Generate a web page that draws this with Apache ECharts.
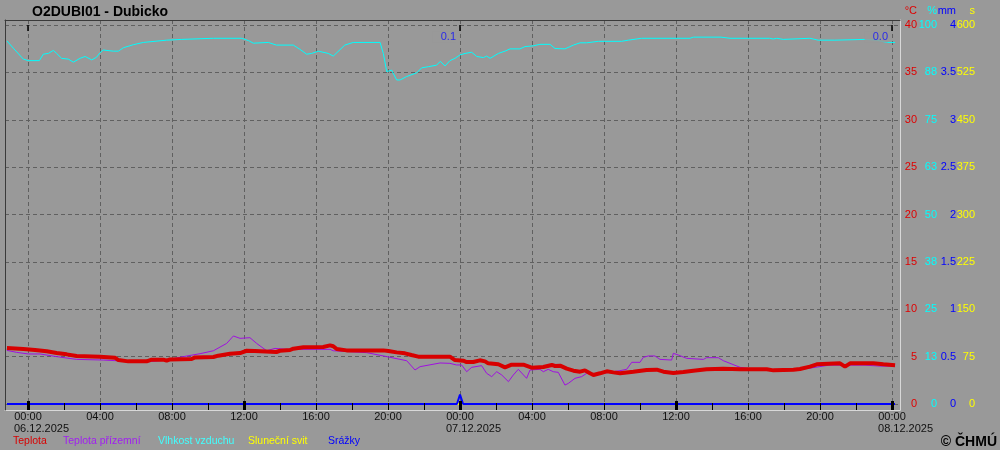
<!DOCTYPE html>
<html><head><meta charset="utf-8">
<script src="https://cdn.jsdelivr.net/npm/echarts@6/dist/echarts.min.js"></script>
<style>html,body{margin:0;padding:0;background:#999999;}#c{width:1000px;height:450px;}</style>
</head><body><div id="c"></div>
<script>
// ---- texts / ticks ----
const chartTitle = 'O2DUBI01 - Dubicko';
const copyright = '© ČHMÚ';
const dayLabels = ['06.12.2025', '07.12.2025', '08.12.2025'];
const timeLabelTicks = [0, 4, 8, 12, 16, 20, 24, 28, 32, 36, 40, 44, 48];
const minorTicks = [0, 2, 4, 6, 8, 10, 12, 14, 16, 18, 20, 22, 24, 26, 28, 30, 32, 34, 36, 38, 40, 42, 44, 46, 48];
const majorTicks = [0, 12, 24, 36, 48];
const midnightTicks = [0, 24, 48];
const tempTicks = [0, 5, 10, 15, 20, 25, 30, 35, 40];
const humTicks = [0, 12.5, 25, 37.5, 50, 62.5, 75, 87.5, 100];
const rainTicks = [0, 0.5, 1, 1.5, 2, 2.5, 3, 3.5, 4];
const sunTicks = [0, 75, 150, 225, 300, 375, 450, 525, 600];

// ---- data: time in hours from 06.12.2025 00:00 ----
const teplotaT = [-1.17,-0.26,0.39,1.04,1.59,2.15,2.7,4.0,4.83,5.02,5.57,6.59,6.87,7.52,7.7,7.89,9.09,9.28,10.3,10.57,11.22,11.78,12.15,12.6,12.7,13.8,14.0,14.56,14.74,15.3,16.4,16.78,16.96,17.15,17.7,19.74,20.02,20.48,20.94,21.3,21.68,23.44,23.54,23.72,24.18,24.37,24.74,25.1,25.39,25.57,26.13,26.5,26.87,27.52,27.98,28.63,29.1,29.28,29.56,29.93,30.3,30.67,30.94,31.22,31.41,31.78,32.15,32.52,32.89,33.63,34.37,34.93,35.3,35.85,36.41,36.96,37.7,38.63,39.56,41.04,41.41,42.52,42.89,43.44,43.82,45.11,45.39,45.67,46.96,47.52,48.17];
const teplotaV = [5.91,5.8,5.7,5.56,5.38,5.24,5.07,5.0,4.89,4.64,4.5,4.5,4.68,4.68,4.57,4.71,4.75,4.92,4.96,5.1,5.31,5.38,5.62,5.59,5.45,5.49,5.62,5.7,5.84,5.98,6.02,6.19,6.1,5.8,5.66,5.66,5.59,5.45,5.35,5.17,5.0,5.0,4.89,4.64,4.57,4.43,4.43,4.61,4.5,4.29,4.19,3.87,4.15,4.15,3.83,3.9,4.12,4.01,4.05,3.73,3.52,3.41,3.55,3.24,3.06,3.24,3.45,3.34,3.24,3.41,3.59,3.62,3.41,3.27,3.38,3.52,3.66,3.73,3.66,3.66,3.55,3.62,3.69,3.94,4.19,4.29,3.94,4.29,4.29,4.19,4.08];

const prizemniT = [-1.17,-0.63,0.02,0.67,1.59,2.7,4.18,4.93,5.6,6.6,7.5,7.9,8.63,9.56,10.3,11.04,11.41,11.78,12.33,12.7,13.26,13.72,14.37,16.78,16.96,18.82,19.93,21.04,21.5,21.78,22.89,23.44,23.8,24.09,24.37,24.65,25.2,25.48,25.76,26.04,26.32,26.69,26.96,27.24,27.7,27.89,28.44,28.63,28.9,29.18,29.46,29.83,30.02,30.39,30.76,31.04,31.8,32.89,33.26,33.54,34.0,34.18,34.46,34.83,35.11,35.76,35.85,36.13,36.59,37.52,37.7,38.35,38.63,39.0,39.56,40.5,42.5,43.5,44.5,46.5,47.33,48.17];
const prizemniV = [5.66,5.45,5.28,5.28,5.0,4.71,4.64,4.57,4.45,4.45,4.6,4.72,5.0,5.31,5.62,6.4,7.18,6.93,7.0,6.4,5.62,5.87,5.77,5.77,5.62,5.42,5.0,4.57,3.59,3.94,4.33,4.29,4.12,4.12,3.41,3.87,4.05,3.24,2.89,3.41,3.06,2.36,3.06,3.66,2.71,3.59,3.66,3.41,3.66,3.41,3.34,2.0,2.18,2.71,2.89,3.24,3.2,3.52,3.66,4.4,4.4,4.92,5.07,5.07,4.71,4.64,5.35,5.17,4.82,4.71,4.89,4.89,4.57,4.29,3.87,3.6,3.55,3.8,4.1,4.1,4.0,4.0];

const vlhkostT = [-1.17,-0.82,-0.26,0.02,0.63,0.85,1.13,1.41,1.59,1.87,2.24,2.52,2.89,3.17,3.54,3.81,4.0,4.18,4.74,5.02,5.3,5.85,6.41,7.7,8.54,10.3,11.87,12.24,12.52,13.35,13.8,14.74,15.1,15.48,15.76,16.13,16.68,16.96,17.6,18.07,19.56,19.74,19.93,20.2,20.48,20.67,21.04,21.6,21.87,22.24,22.7,22.9,23.17,23.44,23.72,24.0,24.28,24.65,24.93,25.3,25.48,25.67,26.13,26.5,26.78,27.33,27.61,28.07,28.44,29.0,29.28,29.83,30.3,30.67,31.04,31.69,32.98,33.35,34.09,36.78,36.96,38.5,39.0,41.2,41.4,41.6,41.96,43.44,43.9,44.83,44.93,46.5,47.15,47.7,48.17];
const vlhkostV = [95.8,93.9,91.0,90.6,90.6,92.3,92.5,93.3,92.5,91.2,91.0,90.2,91.2,91.7,90.8,91.5,92.7,93.4,93.1,93.1,94.0,94.8,95.4,96.0,96.2,96.5,96.5,95.9,95.2,95.4,94.7,94.7,93.6,92.3,92.5,93.1,92.5,91.8,94.7,95.4,95.4,92.5,87.7,88.1,85.5,85.5,86.4,87.4,88.7,89.0,89.4,90.4,89.2,90.6,91.2,92.1,92.5,92.8,91.7,91.4,91.8,91.2,92.5,93.1,93.7,93.7,94.3,94.5,94.9,94.9,93.8,93.7,94.7,95.3,95.3,95.7,95.7,96.0,96.5,96.5,96.8,96.8,96.5,96.5,96.3,96.5,96.2,96.5,96.0,96.0,96.2,96.2,96.0,95.4,95.4];

const srazkyT = [-1.17,23.83,24.0,24.17,48.17];
const srazkyV = [0,0,0.1,0,0];

const svitT = [-1.17,48.17];
const svitV = [0,0];

const dayEnds = [24, 48];
const dayTotals = ['0.1', '0.0'];

// ---- build ----
const zip = (a, b) => a.map((t, i) => [t, b[i]]);
const FONT = 'Liberation Sans, Arial, sans-serif';
const GRIDC = '#606060';
const C_RED = '#d80000', C_PUR = '#a010e0', C_CYAN = '#00ffff', C_YEL = '#ffff00', C_BLUE = '#0000ff';
const XMIN = -1.278, XMAX = 48.444;

function timeFmt(v) {
  const h = ((Math.round(v) % 24) + 24) % 24;
  const s = (h < 10 ? '0' : '') + h + ':00';
  if (h === 0) return '{t|' + s + '}\n{d|' + dayLabels[Math.round(v / 24)] + '}';
  return '{t|' + s + '}';
}

const baseX = {type: 'value', min: XMIN, max: XMAX, axisLine: {show: false, onZero: false},
  axisTick: {show: false}, axisLabel: {show: false}, splitLine: {show: false}};

function yAx(o) {
  return Object.assign({type: 'value', position: 'right', axisLine: {show: false, onZero: false},
    nameLocation: 'end', nameGap: 4}, o);
}

const lbl = (color) => ({align: 'right', margin: 0, color: color, fontSize: 11, fontFamily: FONT});
const nm = (color) => ({align: 'right', color: color, fontSize: 11, fontFamily: FONT});

const legendItems = [
  ['Teplota', C_RED, 7], ['Teplota přízemní', '#a020f0', 57], ['Vlhkost vzduchu', '#40ffff', 152],
  ['Sluneční svit', C_YEL, 242], ['Srážky', C_BLUE, 322]
];

const option = {
  animation: false,
  backgroundColor: '#999999',
  textStyle: {fontFamily: FONT},
  title: [
    {text: chartTitle, left: 32, top: 5, padding: 0, textStyle: {fontSize: 14, fontWeight: 'bold', color: '#000', fontFamily: FONT}},
    {text: copyright, right: 3, top: 435, padding: 0, textStyle: {fontSize: 14, fontWeight: 'bold', color: '#000', fontFamily: FONT}}
  ],
  legend: legendItems.map(it => ({
    data: [{name: it[0], textStyle: {color: it[1]}}], left: it[2], top: 436, padding: 0,
    itemWidth: 0, itemHeight: 0, selectedMode: false,
    textStyle: {fontSize: 10.5, fontFamily: FONT}
  })),
  grid: {left: 5, right: 100, top: 20, bottom: 40, show: false, outerBoundsMode: 'none', containLabel: false},
  xAxis: [
    Object.assign({}, baseX, {position: 'bottom', z: 10,
      axisLine: {show: true, onZero: false, lineStyle: {color: '#d8d8d8', width: 1}},
      axisTick: {show: true, inside: true, length: 7, customValues: minorTicks, lineStyle: {color: '#000', width: 1}},
      axisLabel: {show: true, customValues: timeLabelTicks, margin: 1, formatter: timeFmt, color: '#111',
        rich: {
          t: {width: 28, align: 'center', fontSize: 11, lineHeight: 12, color: '#111', fontFamily: FONT},
          d: {width: 28, align: 'left', fontSize: 11, lineHeight: 12, color: '#111', fontFamily: FONT}
        }}
    }),
    Object.assign({}, baseX, {position: 'bottom',
      axisTick: {show: false, customValues: timeLabelTicks},
      splitLine: {show: true, lineStyle: {type: [4, 3], color: GRIDC, width: 1}}
    }),
    Object.assign({}, baseX, {position: 'bottom', z: 11,
      axisTick: {show: true, inside: true, length: 9, customValues: majorTicks, lineStyle: {color: '#000', width: 3}}
    }),
    Object.assign({}, baseX, {position: 'top', offset: -5, z: 11,
      axisTick: {show: true, inside: true, length: 6, customValues: midnightTicks, lineStyle: {color: '#000', width: 1.5}}
    }),
    Object.assign({}, baseX, {position: 'top', z: 11,
      axisLine: {show: true, onZero: false, lineStyle: {color: '#3a3a3a', width: 1}}
    })
  ],
  yAxis: [
    yAx({offset: 17, min: -0.633, max: 40.53, name: '°C', nameTextStyle: nm('#e00000'),
      axisTick: {show: false, customValues: tempTicks},
      axisLabel: Object.assign(lbl('#e00000'), {customValues: tempTicks, formatter: v => String(v)}),
      splitLine: {show: true, lineStyle: {type: [4, 3], color: GRIDC, width: 1}}}),
    yAx({offset: 37, min: -1.583, max: 101.32, name: '%', nameTextStyle: nm(C_CYAN),
      axisTick: {show: false, customValues: humTicks},
      axisLabel: Object.assign(lbl(C_CYAN), {customValues: humTicks, formatter: v => String(Math.round(v))}),
      splitLine: {show: false}}),
    yAx({offset: 56, min: -0.0633, max: 4.053, name: 'mm', nameTextStyle: nm(C_BLUE),
      axisTick: {show: false, customValues: rainTicks},
      axisLabel: Object.assign(lbl(C_BLUE), {customValues: rainTicks, formatter: v => String(v)}),
      splitLine: {show: false}}),
    yAx({offset: 75, min: -9.5, max: 608, name: 's', nameTextStyle: nm(C_YEL),
      axisTick: {show: false, customValues: sunTicks},
      axisLabel: Object.assign(lbl(C_YEL), {customValues: sunTicks, formatter: v => String(v)}),
      splitLine: {show: false}}),
    {type: 'value', position: 'left', min: 0, max: 1, z: 11, axisLine: {show: true, onZero: false, lineStyle: {color: '#3a3a3a', width: 1}},
      axisTick: {show: false}, axisLabel: {show: false}, splitLine: {show: false}},
    {type: 'value', position: 'right', offset: 0, min: 0, max: 1, z: 11, axisLine: {show: true, onZero: false, lineStyle: {color: '#d8d8d8', width: 1}},
      axisTick: {show: false}, axisLabel: {show: false}, splitLine: {show: false}}
  ],
  series: [
    {name: 'Sluneční svit', type: 'line', xAxisIndex: 0, yAxisIndex: 3, data: zip(svitT, svitV), showSymbol: false,
      lineStyle: {color: C_YEL, width: 2}, itemStyle: {color: C_YEL}, z: 2},
    {name: 'Srážky', type: 'line', xAxisIndex: 0, yAxisIndex: 2, data: zip(srazkyT, srazkyV), showSymbol: false,
      lineStyle: {color: C_BLUE, width: 2}, itemStyle: {color: C_BLUE}, z: 3},
    {name: 'Vlhkost vzduchu', type: 'line', xAxisIndex: 0, yAxisIndex: 1, data: zip(vlhkostT, vlhkostV), showSymbol: false,
      lineStyle: {color: C_CYAN, width: 1}, itemStyle: {color: C_CYAN}, z: 4},
    {name: 'Teplota přízemní', type: 'line', xAxisIndex: 0, yAxisIndex: 0, data: zip(prizemniT, prizemniV), showSymbol: false,
      lineStyle: {color: C_PUR, width: 1}, itemStyle: {color: C_PUR}, z: 5},
    {name: 'Teplota', type: 'line', xAxisIndex: 0, yAxisIndex: 0, data: zip(teplotaT, teplotaV), showSymbol: false,
      lineStyle: {color: C_RED, width: 4}, itemStyle: {color: C_RED}, z: 6},
    {name: 'denní úhrn', type: 'scatter', xAxisIndex: 0, yAxisIndex: 0, symbolSize: 0, z: 8,
      data: dayEnds.map((t, i) => ({value: [t, 38.75], total: dayTotals[i]})),
      label: {show: true, position: 'left', distance: 4, color: '#0a0aff', fontSize: 11, fontFamily: FONT,
        backgroundColor: '#999999', padding: [0, 0, 0, 8], lineHeight: 11,
        formatter: p => dayTotals[p.dataIndex]}}
  ]
};
const chart = echarts.init(document.getElementById('c'), null, {renderer: 'canvas'});
chart.setOption(option);
</script></body></html>
